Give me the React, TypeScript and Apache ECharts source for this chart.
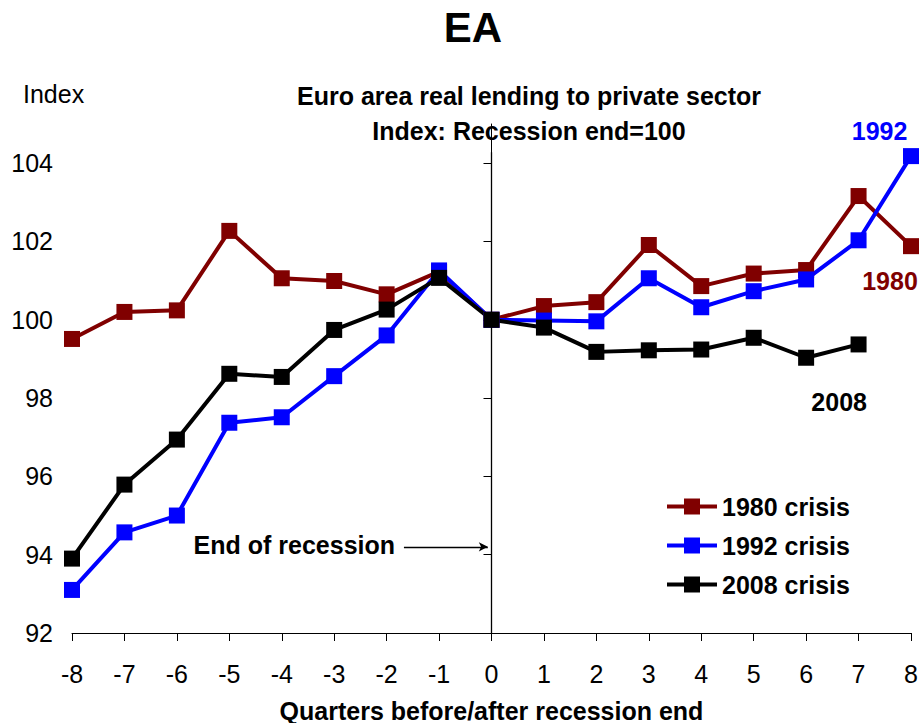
import React, { useEffect, useRef } from "react";
import * as echarts from "echarts";

const quarters = [-8, -7, -6, -5, -4, -3, -2, -1, 0, 1, 2, 3, 4, 5, 6, 7, 8];
const crisis1980 = [99.51, 100.2, 100.24, 102.27, 101.06, 100.99, 100.65, 101.23, 100, 100.35, 100.45, 101.91, 100.86, 101.18, 101.27, 103.16, 101.88];
const crisis1992 = [93.1, 94.57, 95.0, 97.37, 97.51, 98.56, 99.6, 101.26, 100, 99.98, 99.96, 101.06, 100.32, 100.73, 101.03, 102.03, 104.18];
const crisis2008 = [93.9, 95.79, 96.94, 98.62, 98.54, 99.74, 100.26, 101.07, 100, 99.8, 99.18, 99.22, 99.24, 99.54, 99.03, 99.37, null];
const yTicks = [92, 94, 96, 98, 100, 102, 104];
const seriesNames = ["1980 crisis", "1992 crisis", "2008 crisis"];
const seriesColors = ["#800000", "#0000ff", "#000000"];

const FONT = "'Liberation Sans', Arial, sans-serif";

function toPairs(vals: (number | null)[]) {
  const out: [number, number][] = [];
  quarters.forEach((q, i) => {
    const v = vals[i];
    if (v !== null && v !== undefined) out.push([q, v]);
  });
  return out;
}

export default function App() {
  const ref = useRef<HTMLDivElement>(null);
  useEffect(() => {
    document.body.style.margin = "0";
    if (!ref.current) return;
    const chart = echarts.init(ref.current, undefined, { renderer: "svg" });
    const textLabel = (txt: string, color: string) => ({
      show: true,
      position: "inside",
      formatter: txt,
      color,
      fontFamily: FONT,
      fontWeight: "bold",
      fontSize: 25,
    });
    const mk = (name: string, color: string, vals: (number | null)[], extra: any) => ({
      name,
      type: "line",
      data: toPairs(vals),
      symbol: "rect",
      symbolSize: 16,
      clip: false,
      lineStyle: { color, width: 4 },
      itemStyle: { color },
      ...extra,
    });
    chart.setOption({
      animation: false,
      grid: { left: 72, right: 8, top: 124, bottom: 90, outerBoundsMode: "none", containLabel: false },
      graphic: [
        {
          type: "text",
          x: 473,
          y: 27,
          style: { text: "EA", fontFamily: FONT, fontWeight: "bold", fontSize: 42, fill: "#000", align: "center", verticalAlign: "middle" },
        },
        {
          type: "text",
          x: 529,
          y: 96,
          style: { text: "Euro area real lending to private sector", fontFamily: FONT, fontWeight: "bold", fontSize: 25, fill: "#000", align: "center", verticalAlign: "middle" },
        },
        {
          type: "text",
          x: 529,
          y: 131,
          style: { text: "Index: Recession end=100", fontFamily: FONT, fontWeight: "bold", fontSize: 25, fill: "#000", align: "center", verticalAlign: "middle" },
        },
        {
          type: "text",
          x: 23,
          y: 94,
          style: { text: "Index", fontFamily: FONT, fontSize: 25, fill: "#000", align: "left", verticalAlign: "middle" },
        },
      ],
      legend: {
        orient: "vertical",
        left: 665,
        top: 494,
        padding: 0,
        itemWidth: 50,
        itemHeight: 20,
        itemGap: 14,
        lineStyle: { width: 4 },
        textStyle: { fontFamily: FONT, fontWeight: "bold", fontSize: 25, color: "#000" },
        data: seriesNames,
      },
      xAxis: {
        type: "value",
        min: -8,
        max: 8,
        interval: 1,
        name: "Quarters before/after recession end",
        nameLocation: "middle",
        nameGap: 65,
        nameTextStyle: { fontFamily: FONT, fontWeight: "bold", fontSize: 25, color: "#000" },
        axisLine: { lineStyle: { color: "#000", width: 1 } },
        axisTick: { show: true, length: 8, lineStyle: { color: "#000" } },
        axisLabel: { fontFamily: FONT, fontSize: 25, color: "#000", margin: 28 },
        splitLine: { show: false },
      },
      yAxis: {
        type: "value",
        min: 92,
        max: 105,
        interval: 2,
        axisLine: { show: true, lineStyle: { color: "#000", width: 1 } },
        axisTick: { show: true, length: 8, lineStyle: { color: "#000" }, customValues: yTicks },
        axisLabel: { fontFamily: FONT, fontSize: 25, color: "#000", margin: 19, customValues: yTicks },
        splitLine: { show: false },
      },
      series: [
        mk(seriesNames[0], seriesColors[0], crisis1980, {
          markPoint: {
            symbolSize: 0,
            silent: true,
            data: [{ coord: [7.6, 100.98], label: textLabel("1980", seriesColors[0]) }],
          },
        }),
        mk(seriesNames[1], seriesColors[1], crisis1992, {
          markPoint: {
            symbolSize: 0,
            silent: true,
            data: [{ coord: [7.4, 104.81], label: textLabel("1992", seriesColors[1]) }],
          },
        }),
        mk(seriesNames[2], seriesColors[2], crisis2008, {
          markPoint: {
            symbolSize: 0,
            silent: true,
            data: [
              { coord: [6.63, 97.91], label: textLabel("2008", "#000") },
              { coord: [-3.76, 94.24], label: textLabel("End of recession", "#000") },
            ],
          },
          markLine: {
            silent: true,
            animation: false,
            label: { show: false },
            lineStyle: { color: "#000", width: 1.3, type: "solid" },
            data: [
              [
                { coord: [0, 104.28], symbol: "none" },
                { coord: [0, 92], symbol: "none" },
              ],
              [
                { coord: [-1.67, 94.2], symbol: "none" },
                { coord: [-0.07, 94.2], symbol: "arrow", symbolSize: [7, 9] },
              ],
            ],
          },
        }),
      ],
    });
    return () => chart.dispose();
  }, []);
  return <div ref={ref} style={{ width: 919, height: 723 }} />;
}
